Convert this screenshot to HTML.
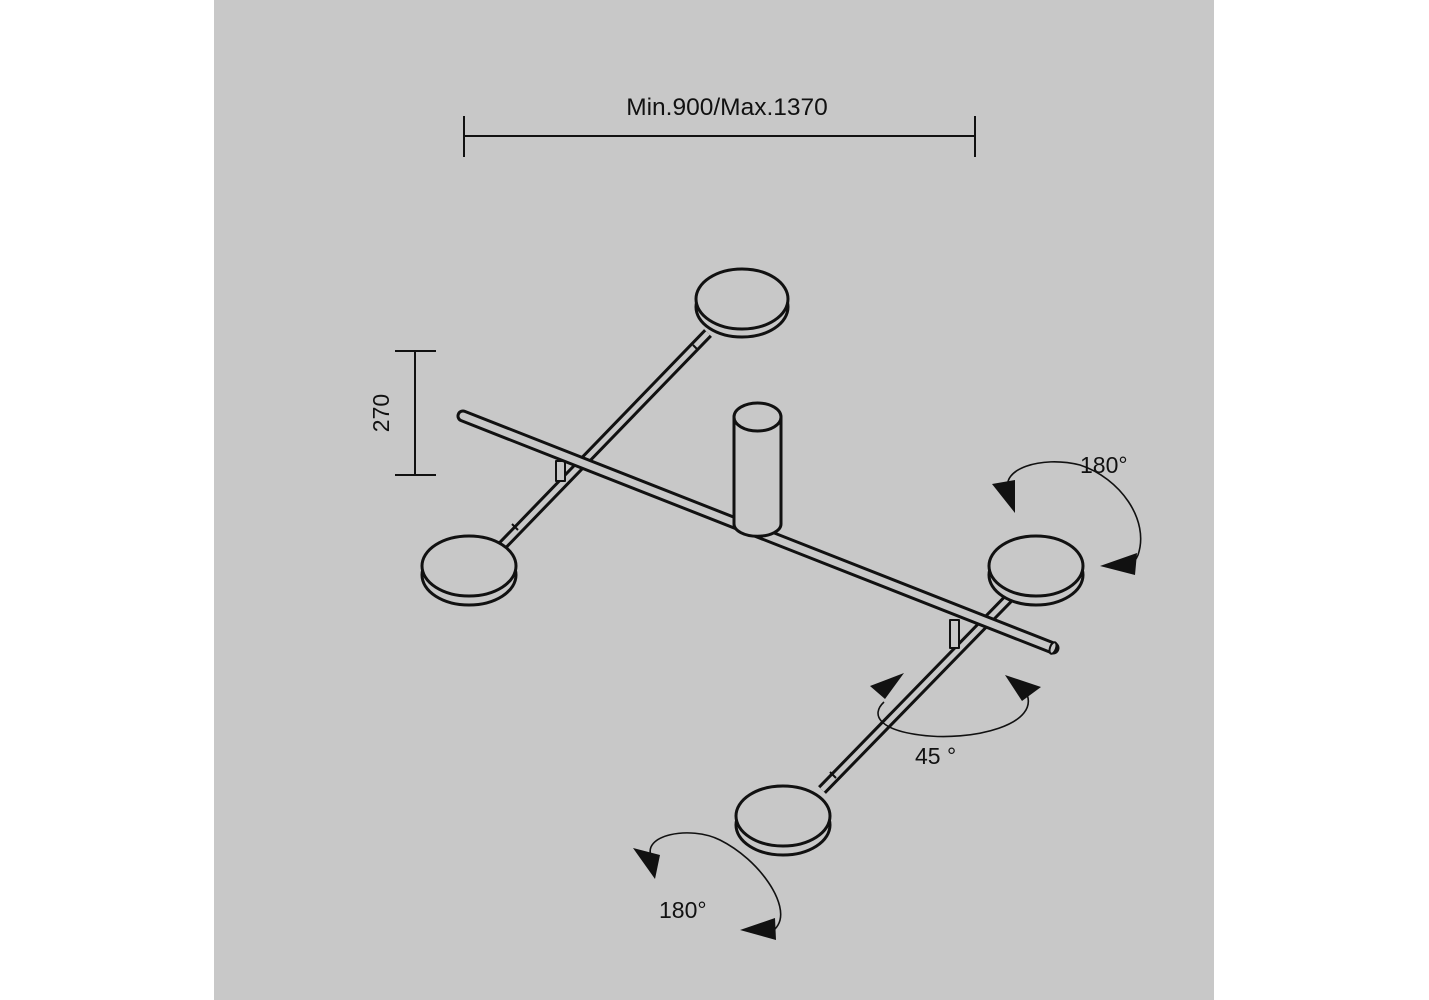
<!DOCTYPE html>
<html><head><style>
html,body{margin:0;padding:0;background:#fff;}
svg{display:block;}
text{font-family:"Liberation Sans",sans-serif;fill:#111;}
</style></head><body>
<svg width="1429" height="1000" viewBox="0 0 1429 1000" xmlns="http://www.w3.org/2000/svg">
<rect x="214" y="0" width="1000" height="1000" fill="#c8c8c8"/>
<g stroke="#111" fill="none" stroke-width="2">
<line x1="464" y1="136" x2="975" y2="136"/>
<line x1="464" y1="116" x2="464" y2="157"/>
<line x1="975" y1="116" x2="975" y2="157"/>
<line x1="415" y1="351" x2="415" y2="475"/>
<line x1="395" y1="351" x2="436" y2="351"/>
<line x1="395" y1="475" x2="436" y2="475"/>
</g>
<text x="727" y="115" font-size="24.5" text-anchor="middle">Min.900/Max.1370</text>
<text transform="translate(389,413) rotate(-90)" font-size="23" text-anchor="middle">270</text>

<g stroke="#111" stroke-width="3" fill="#c8c8c8" stroke-linejoin="round">
<line x1="708" y1="333" x2="500" y2="548" stroke-width="11" stroke-linecap="butt"/>
<line x1="708" y1="333" x2="500" y2="548" stroke-width="5" stroke="#c8c8c8"/>
<line x1="693" y1="345" x2="698" y2="350" stroke-width="2"/>
<line x1="512" y1="524" x2="518" y2="530" stroke-width="2"/>
<rect x="556" y="461" width="9" height="20" stroke-width="2"/>
<line x1="1010" y1="597" x2="822" y2="790" stroke-width="11"/>
<line x1="1010" y1="597" x2="822" y2="790" stroke-width="5" stroke="#c8c8c8"/>
<line x1="830" y1="772" x2="836" y2="778" stroke-width="2"/>
<rect x="950" y="620" width="9" height="28" stroke-width="2"/>
<line x1="463" y1="416" x2="1053" y2="648" stroke-width="13" stroke-linecap="round"/>
<line x1="463" y1="416" x2="1053" y2="648" stroke-width="7" stroke="#c8c8c8" stroke-linecap="round"/>
<ellipse cx="1053" cy="648" rx="3" ry="6" stroke-width="2" transform="rotate(20 1053 648)"/>
<path d="M734,417 L734,524 A23,12 0 0 0 781,524 L781,417 Z"/>
<ellipse cx="757.5" cy="417" rx="23.5" ry="14"/>
<g>
<ellipse cx="742" cy="307" rx="46" ry="30"/><ellipse cx="742" cy="299" rx="46" ry="30"/>
<ellipse cx="469" cy="575" rx="47" ry="30"/><ellipse cx="469" cy="566" rx="47" ry="30"/>
<ellipse cx="1036" cy="575" rx="47" ry="30"/><ellipse cx="1036" cy="566" rx="47" ry="30"/>
<ellipse cx="783" cy="825" rx="47" ry="30"/><ellipse cx="783" cy="816" rx="47" ry="30"/>
</g>
</g>

<g stroke="#111" stroke-width="1.6" fill="none">
<path d="M1009,490 C1000,470 1040,455 1080,465 C1120,478 1150,520 1138,555 C1134,565 1125,568 1120,568"/>
<path d="M884,702 C870,715 880,730 920,735 C970,742 1045,725 1025,690"/>
<path d="M652,858 C640,835 690,825 720,840 C760,860 790,905 778,925 C774,932 768,934 762,934"/>
</g>
<g fill="#111">
<polygon points="992,484 1015,480 1015,513"/>
<polygon points="1100,566 1137,553 1135,575"/>
<polygon points="870,686 904,673 885,699"/>
<polygon points="1005,675 1041,687 1022,701"/>
<polygon points="633,848 660,855 655,879"/>
<polygon points="740,930 775,918 776,940"/>
</g>
<text x="1080" y="473" font-size="23">180°</text>
<text x="915" y="764" font-size="23">45 °</text>
<text x="659" y="918" font-size="23">180°</text>
</svg>
</body></html>
